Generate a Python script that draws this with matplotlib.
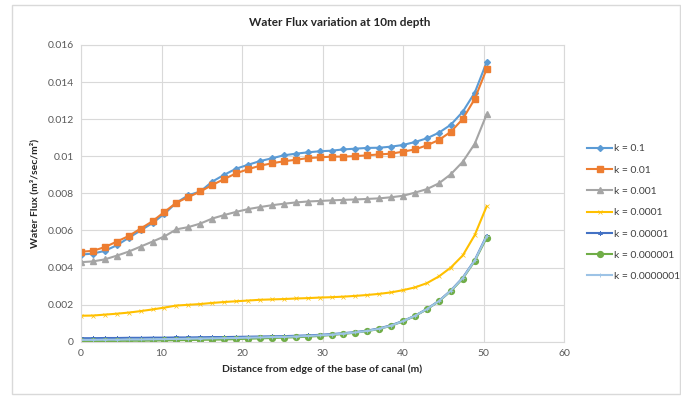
import matplotlib
matplotlib.use("Agg")
import matplotlib.pyplot as plt
from matplotlib.patches import Rectangle

plt.rcParams['font.family'] = ['Lato', 'DejaVu Sans']

distance = [0, 1.48, 2.96, 4.45, 5.93, 7.41, 8.89, 10.37, 11.86, 13.34, 14.82,
            16.30, 17.78, 19.27, 20.75, 22.23, 23.71, 25.19, 26.68, 28.16, 29.64,
            31.12, 32.60, 34.09, 35.57, 37.05, 38.53, 40.01, 41.50, 42.98, 44.46,
            45.94, 47.42, 48.91, 50.39]

k_01 = [0.0047, 0.00475, 0.0049, 0.0052, 0.0056, 0.0060, 0.0064, 0.0069, 0.0075,
        0.0079, 0.0081, 0.00863, 0.0090, 0.00933, 0.00954, 0.00974, 0.00989, 0.01005,
        0.01014, 0.01021, 0.01027, 0.0103, 0.01037, 0.01041, 0.01045, 0.01046,
        0.01052, 0.01061, 0.01077, 0.01097, 0.01127, 0.0117, 0.0124, 0.01343, 0.01507]

k_001 = [0.00485, 0.0049, 0.0051, 0.0054, 0.0057, 0.0061, 0.0065, 0.0070, 0.0075,
         0.0078, 0.0081, 0.00845, 0.00877, 0.00908, 0.0093, 0.00949, 0.00962, 0.00973,
         0.00981, 0.0099, 0.00994, 0.00998, 0.00998, 0.01001, 0.01005, 0.0101,
         0.01014, 0.01025, 0.01037, 0.01059, 0.01088, 0.01132, 0.01201, 0.01309, 0.01471]

k_0001 = [0.00429, 0.00433, 0.00444, 0.00464, 0.00486, 0.00513, 0.0054, 0.00568,
          0.00606, 0.00618, 0.00637, 0.00664, 0.00683, 0.00700, 0.00715, 0.00726,
          0.00736, 0.00744, 0.00751, 0.00756, 0.00759, 0.00762, 0.00765, 0.00767,
          0.0077, 0.00773, 0.00779, 0.00787, 0.00804, 0.00823, 0.00854, 0.00903,
          0.0097, 0.01067, 0.01226]

k_00001 = [0.0014, 0.00141, 0.00146, 0.00151, 0.00157, 0.00165, 0.00174, 0.00184,
           0.00195, 0.00199, 0.00203, 0.00209, 0.00214, 0.00218, 0.00222, 0.00226,
           0.00228, 0.0023, 0.00233, 0.00235, 0.00238, 0.0024, 0.00243, 0.00247,
           0.00252, 0.00258, 0.00266, 0.00278, 0.00293, 0.00316, 0.00352, 0.0040,
           0.00465, 0.00575, 0.0073]

k_000001 = [0.00019, 0.00019, 0.0002, 0.0002, 0.00021, 0.00021, 0.00022, 0.00022,
            0.00023, 0.00023, 0.00024, 0.00025, 0.00025, 0.00026, 0.00027, 0.00028,
            0.00029, 0.0003, 0.00032, 0.00034, 0.00037, 0.00041, 0.00046, 0.00052,
            0.0006, 0.00072, 0.00089, 0.00112, 0.0014, 0.00177, 0.0022, 0.00276,
            0.00345, 0.0044, 0.00572]

k_0000001 = [0.00002, 0.00003, 0.00003, 0.00004, 0.00005, 0.00005, 0.00006, 0.00007,
             0.00008, 0.00009, 0.0001, 0.00011, 0.00012, 0.00014, 0.00016, 0.00018,
             0.0002, 0.00022, 0.00024, 0.00027, 0.00031, 0.00036, 0.00042, 0.00049,
             0.00057, 0.00069, 0.00086, 0.0011, 0.00139, 0.00175, 0.00218, 0.00273,
             0.0034, 0.00435, 0.0056]

k_00000001 = [0.0001, 0.0001, 0.00011, 0.00011, 0.00012, 0.00012, 0.00013, 0.00014,
              0.00015, 0.00016, 0.00017, 0.00018, 0.00019, 0.0002, 0.00022, 0.00023,
              0.00025, 0.00026, 0.00028, 0.00031, 0.00034, 0.00038, 0.00044, 0.0005,
              0.00058, 0.0007, 0.00087, 0.00111, 0.0014, 0.00176, 0.00219, 0.00275,
              0.00343, 0.00438, 0.00568]

labels = ["k = 0.1", "k = 0.01", "k = 0.001", "k = 0.0001", "k = 0.00001",
          "k = 0.000001", "k = 0.0000001"]
series = [k_01, k_001, k_0001, k_00001, k_000001, k_0000001, k_00000001]
colors = ["#5B9BD5", "#ED7D31", "#A5A5A5", "#FFC000", "#4472C4", "#70AD47", "#9DC3E6"]
markers = ["D", "s", "^", "x", (6, 2, 0), "o", "+"]
msizes = [3.0, 5, 4.2, 2.4, 3.2, 4.2, 3.2]
mews = [1.0, 1.0, 1.0, 0.5, 0.6, 1.0, 0.6]

xticks = [0, 10, 20, 30, 40, 50, 60]
yticks = [0, 0.002, 0.004, 0.006, 0.008, 0.01, 0.012, 0.014, 0.016]
yticklabels = ["0", "0.002", "0.004", "0.006", "0.008", "0.01", "0.012", "0.014", "0.016"]

fig = plt.figure(figsize=(6.81, 3.96), dpi=100)
fig.patches.append(Rectangle((12 / 681, 2 / 396), 668 / 681, 389 / 396,
                             transform=fig.transFigure, fill=False,
                             edgecolor="#D9D9D9", linewidth=1.0))
ax = fig.add_axes([81 / 681, 1 - 341.7 / 396, (564 - 81) / 681, (341.7 - 45) / 396])

for y, lab, c, m, ms, mw in zip(series, labels, colors, markers, msizes, mews):
    ax.plot(distance, y, color=c, marker=m, markersize=ms, linewidth=1.5,
            markeredgewidth=mw, label=lab, markeredgecolor=c, markerfacecolor=c)

ax.set_xlim(0, 60)
ax.set_ylim(0, 0.016)
ax.set_xticks(xticks)
ax.set_yticks(yticks)
ax.set_yticklabels(yticklabels)
ax.grid(True, color="#D9D9D9", linewidth=0.8)
ax.set_axisbelow(True)
for s in ax.spines.values():
    s.set_color("#D9D9D9")
    s.set_linewidth(0.8)
ax.tick_params(length=0, labelsize=7.5, labelcolor="#595959", pad=5)

ax.set_xlabel("Distance from edge of the base of canal (m)", fontsize=7.5,
              fontweight="bold", color="#262626", labelpad=5)
ax.set_ylabel("Water Flux (m³/sec/m²)", fontsize=7.5, fontweight="bold",
              color="#262626", labelpad=6)
fig.text(340 / 681, 1 - 22 / 396, "Water Flux variation at 10m depth", ha="center",
         va="center", fontsize=8.5, fontweight="bold", color="#262626")

leg = ax.legend(loc="upper left", bbox_to_anchor=(583 / 681, 1 - 140 / 396),
                bbox_transform=fig.transFigure, frameon=False, fontsize=7.5,
                handlelength=2.4, handletextpad=0.2, labelspacing=1.15,
                borderaxespad=0)
for t in leg.get_texts():
    t.set_color("#404040")

fig.savefig("out.png", dpi=100)
